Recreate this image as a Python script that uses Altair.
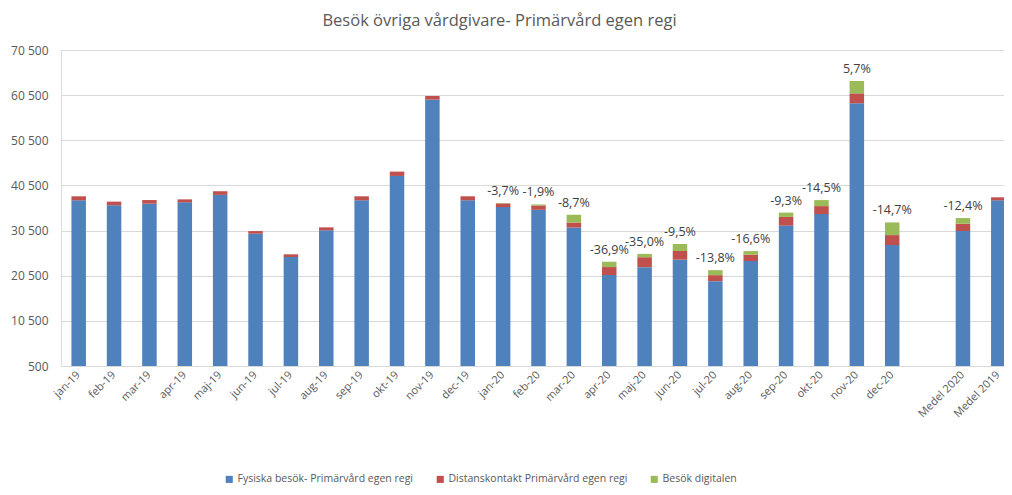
import altair as alt
import pandas as pd

categories = ["jan-19", "feb-19", "mar-19", "apr-19", "maj-19", "jun-19", "jul-19", "aug-19",
              "sep-19", "okt-19", "nov-19", "dec-19",
              "jan-20", "feb-20", "mar-20", "apr-20", "maj-20", "jun-20", "jul-20", "aug-20",
              "sep-20", "okt-20", "nov-20", "dec-20",
              " ", "Medel 2020", "Medel 2019"]

bar_categories = [c for c in categories if c.strip()]

fysiska = [37200, 36100, 36450, 36750, 38400, 29800, 24650, 30550, 37200, 42600, 59500, 37200,
           35700, 35100, 31200, 20650, 22400, 24050, 19300, 23750, 31600, 34150, 58700, 27300,
           30400, 37200]
distans = [890, 810, 810, 660, 810, 590, 590, 660, 890, 960, 810, 890,
           810, 960, 1100, 1770, 2200, 1920, 1330, 1400, 1920, 1770, 2200, 2200,
           1620, 670]
digital = [0, 0, 0, 0, 0, 0, 0, 0, 0, 0, 0, 0,
           100, 220, 1700, 1180, 740, 1550, 1100, 810, 960, 1330, 2730, 2800,
           1250, 0]

series_names = ["Fysiska besök- Primärvård egen regi",
                "Distanskontakt Primärvård egen regi",
                "Besök digitalen"]
series_colors = ["#4F81BD", "#C0504D", "#9BBB59"]

label_categories = ["jan-20", "feb-20", "mar-20", "apr-20", "maj-20", "jun-20", "jul-20",
                    "aug-20", "sep-20", "okt-20", "nov-20", "dec-20", "Medel 2020"]
label_texts = ["-3,7%", "-1,9%", "-8,7%", "-36,9%", "-35,0%", "-9,5%", "-13,8%",
               "-16,6%", "-9,3%", "-14,5%", "5,7%", "-14,7%", "-12,4%"]

y_ticks = [500, 10500, 20500, 30500, 40500, 50500, 60500, 70500]

rows = []
for i, cat in enumerate(bar_categories):
    for k, (name, vals) in enumerate(zip(series_names, [fysiska, distans, digital])):
        rows.append({"cat": cat, "series": name, "idx": k, "value": vals[i]})
df = pd.DataFrame(rows)

totals = {c: fysiska[i] + distans[i] + digital[i] for i, c in enumerate(bar_categories)}
labels_df = pd.DataFrame({
    "cat": label_categories,
    "label": label_texts,
    "total": [totals[c] for c in label_categories],
})

FONT = "Open Sans"
GREY = "#595959"

x_scale = alt.Scale(domain=categories, range=[0, 955], paddingInner=0.59, paddingOuter=0.295)
y_scale = alt.Scale(domain=[500, 70500], zero=False, nice=False)

bars = alt.Chart(df).mark_bar(clip=True).encode(
    x=alt.X("cat:N", scale=x_scale, sort=categories,
            axis=alt.Axis(title=None, labelAngle=-45, labelAlign="right", labelBaseline="middle",
                          ticks=False, labelPadding=7, labelFontSize=11, labelColor=GREY,
                          labelFont=FONT, domainColor="#D9D9D9", grid=False)),
    y=alt.Y("value:Q", stack="zero", scale=y_scale,
            axis=alt.Axis(title=None, values=y_ticks,
                          labelExpr="replace(format(datum.value, ','), ',', ' ')",
                          domain=False, ticks=False, gridColor="#D9D9D9", labelPadding=13,
                          labelFontSize=12, labelColor=GREY, labelFont=FONT)),
    color=alt.Color("series:N", scale=alt.Scale(domain=series_names, range=series_colors),
                    legend=alt.Legend(orient="none", legendX=163, legendY=424,
                                      direction="horizontal", title=None, symbolType="square",
                                      symbolSize=50, symbolStrokeWidth=0, labelFontSize=10.5,
                                      labelColor=GREY, labelFont=FONT, columnPadding=21,
                                      labelOffset=3, labelLimit=400)),
    order=alt.Order("idx:Q", sort="ascending"),
)

texts = alt.Chart(labels_df).mark_text(dy=-12, fontSize=12.5, color="#404040", font=FONT).encode(
    x=alt.X("cat:N", scale=x_scale, sort=categories),
    y=alt.Y("total:Q", scale=y_scale),
    text="label:N",
)

chart = alt.layer(bars, texts).properties(
    width=943,
    height=316,
    padding={"left": 53, "top": 42, "right": 0, "bottom": 121},
    autosize=alt.AutoSizeParams(type="none"),
    title=alt.TitleParams("Besök övriga vårdgivare- Primärvård egen regi", fontSize=16.5,
                          font=FONT, fontWeight="normal", color=GREY, anchor="middle",
                          dx=-33, offset=15),
).configure_view(stroke=None).configure(font=FONT)

chart.save("out.html", embed_options={"renderer": "svg", "actions": False})
